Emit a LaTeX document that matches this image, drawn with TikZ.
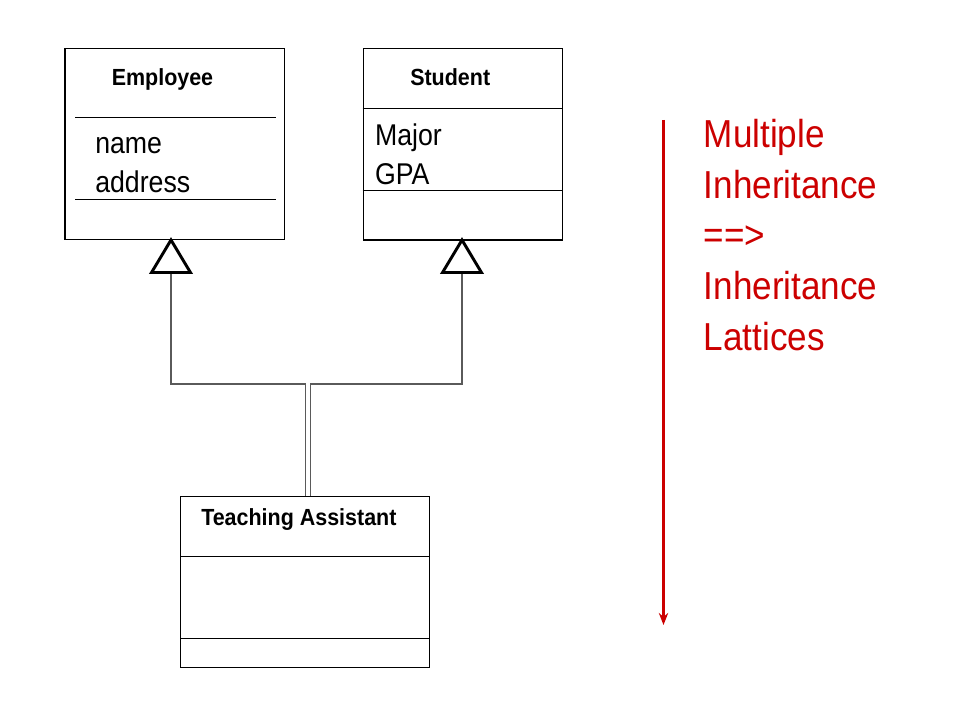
\documentclass[tikz,border=0pt]{standalone}
\usepackage{fontspec}
\setmainfont{Liberation Sans}
\newfontfamily\attrfont[FakeStretch=0.89]{Liberation Sans}
\newfontfamily\titlefont[FakeStretch=0.92]{Liberation Sans}
\newfontfamily\notefont[FakeStretch=0.9]{Liberation Sans}
\usetikzlibrary{arrows.meta}
\definecolor{slidered}{RGB}{204,0,0}
\definecolor{connGray}{RGB}{90,90,90}
\begin{document}
\begin{tikzpicture}[x=0.75pt,y=-0.75pt,
  classbox/.style={draw=black, line width=0.8pt, inner sep=0pt, fill=none},
  sepline/.style={draw=black, line width=0.8pt},
  gentri/.style={draw=black, line width=2.2pt, line join=miter, fill=white},
  conn/.style={draw=connGray, line width=1.1pt},
  title/.style={inner sep=0pt, anchor=base west, font=\titlefont\bfseries\fontsize{17.5}{21}\selectfont},
  attr/.style={inner sep=0pt, anchor=base west, align=left, font=\attrfont\fontsize{22.5}{29.55}\selectfont},
  note/.style={inner sep=0pt, anchor=base west, align=left, text=slidered, font=\notefont\fontsize{29.25}{37.95}\selectfont},
  redarrow/.style={draw=slidered, line width=2.2pt, -{Stealth[length=9pt,width=7pt]}}]
\useasboundingbox (0,0) rectangle (960,720);
\fill[white] (0,0) rectangle (960,720);
% class boxes
\node[classbox, minimum width=164.6pt, minimum height=143.4pt] (emp) at (174.75,143.9) {};
\node[classbox, minimum width=149.6pt, minimum height=143.8pt] (stu) at (463,144.15) {};
\node[classbox, minimum width=186.5pt, minimum height=128.25pt] (ta) at (305,582.2) {};
% compartments
\draw[sepline] (75,117.3) -- (276,117.3);
\draw[sepline] (75,199.3) -- (276,199.3);
\draw[sepline] (stu.west |- 0,108.3) -- (stu.east |- 0,108.3);
\draw[sepline] (stu.west |- 0,190.3) -- (stu.east |- 0,190.3);
\draw[sepline] (ta.west |- 0,556.7) -- (ta.east |- 0,556.7);
\draw[sepline] (ta.west |- 0,638.3) -- (ta.east |- 0,638.3);
% texts
\node[title] (empT) at (111.5,86) {Employee};
\node[title] (stuT) at (410,86) {Student};
\node[title] (taT) at (201,525.7) {Teaching Assistant};
\node[attr] (empA) at (95,192.7) {name\\address};
\node[attr] (stuA) at (374.8,185) {Major\\GPA};
% generalization triangles
\coordinate (empTip) at (171,240);
\coordinate (empBase) at (171,272.5);
\coordinate (stuTip) at (462,240);
\coordinate (stuBase) at (462,272.5);
\coordinate (jl) at (305.7,384);
\coordinate (jr) at (310.7,384);
\draw[conn] (empBase) |- (jl) -- (jl |- ta.north);
\draw[conn] (stuBase) |- (jr) -- (jr |- ta.north);
\draw[gentri] (empTip) -- ([xshift=-14.6pt]empBase) -- ([xshift=14.6pt]empBase) -- cycle;
\draw[gentri] (stuTip) -- ([xshift=-14.6pt]stuBase) -- ([xshift=14.6pt]stuBase) -- cycle;
% red arrow and note
\coordinate (arrTop) at (663.5,120);
\coordinate (arrBot) at (663.5,625);
\draw[redarrow] (arrTop) -- (arrBot);
\node[note] (noteT) at (703.5,350) {Multiple\\Inheritance\\==>\\Inheritance\\Lattices};
\end{tikzpicture}
\end{document}
